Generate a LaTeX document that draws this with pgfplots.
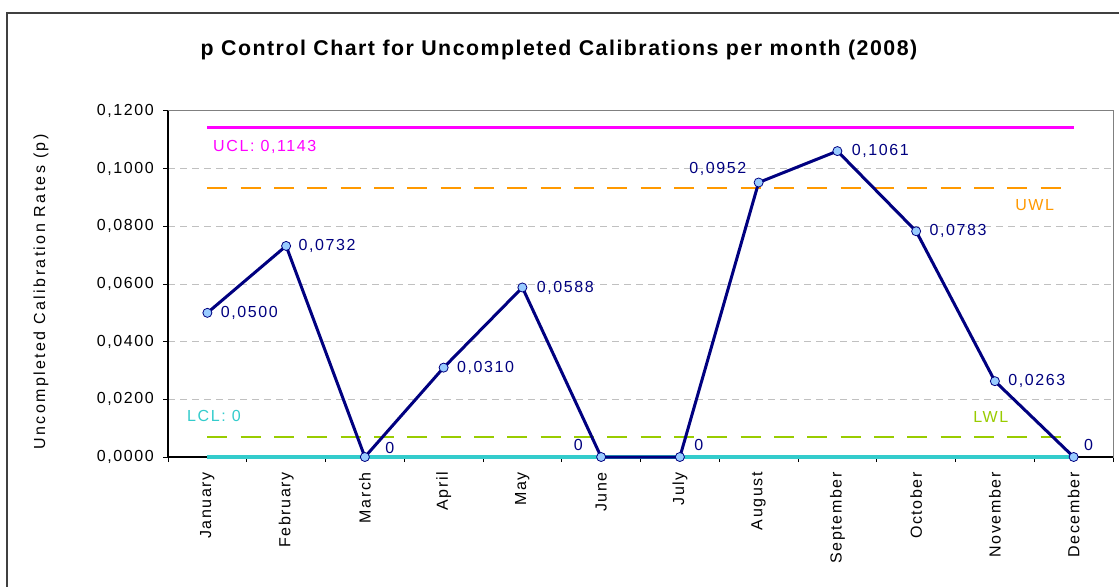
\documentclass[border=0pt]{standalone}
\usepackage{pgfplots}
\pgfplotsset{compat=1.18}
\usepackage{fontspec}
\setmainfont{Liberation Sans}[LetterSpace=10]
\newfontfamily\titlefont{Liberation Sans}[LetterSpace=7]
\newfontfamily\ylabfont{Liberation Sans}[LetterSpace=15]
\definecolor{navy}{HTML}{000080}
\definecolor{ptfill}{HTML}{99CCFF}
\definecolor{uclc}{HTML}{FF00FF}
\definecolor{uwlc}{HTML}{FF9900}
\definecolor{lwlc}{HTML}{99CC00}
\definecolor{lclc}{HTML}{33CCCC}
\definecolor{gridc}{HTML}{C0C0C0}
\definecolor{framec}{HTML}{404040}

\begin{document}
\begin{tikzpicture}
\useasboundingbox (0,0) rectangle (839.25pt,439.5pt);
\fill[white] (0,0) rectangle (839.25pt,439.5pt);
\draw[line width=1.5pt, draw=framec] (5.25pt,-10pt) -- (5.25pt,429.75pt) -- (850pt,429.75pt);
\node[anchor=base, inner sep=0pt, font=\titlefont\bfseries\fontsize{16pt}{19pt}\selectfont] at (419.25pt,398pt)
  {p Control Chart for Uncompleted Calibrations per month (2008)};
\node[anchor=base, rotate=90, inner sep=0pt, font=\ylabfont\fontsize{12pt}{14pt}\selectfont] at (33.75pt,220.5pt)
  {Uncompleted Calibration Rates (p)};
\begin{axis}[
  at={(126pt,96.75pt)}, anchor=south west,
  width=708.75pt, height=259.5pt, scale only axis,
  xmin=-0.5, xmax=11.5, ymin=0, ymax=0.12,
  axis line style={draw=gray, line width=0.75pt},
  tick pos=left, tick align=outside,
  major tick length=3.75pt,
  tick style={black, line width=0.75pt},
  xtick={-0.5,0.5,...,11.5}, xticklabels={,,},
  extra x ticks={0,1,...,11},
  extra x tick labels={January,February,March,April,May,June,July,August,September,October,November,December},
  extra x tick style={major tick length=0pt, xticklabel shift=11.25pt},
  xticklabel style={rotate=90, anchor=east, inner sep=0pt, font=\fontsize{12pt}{14pt}\selectfont},
  ytick={0,0.02,0.04,0.06,0.08,0.1,0.12},
  yticklabels={{0,0000},{0,0200},{0,0400},{0,0600},{0,0800},{0,1000},{0,1200}},
  yticklabel style={anchor=east, inner sep=0pt, font=\fontsize{12pt}{14pt}\selectfont},
  yticklabel shift=6.75pt,
  ymajorgrids,
  grid style={draw=gridc, dash pattern=on 5.25pt off 3.75pt, line width=0.75pt},
  clip=false,
]
\draw[black, line width=1.1pt] (rel axis cs:0,1) -- (rel axis cs:0,0) -- (rel axis cs:1,0);
\addplot[uclc, line width=2.4pt, forget plot] coordinates {(0,0.1143) (11,0.1143)};
\addplot[uwlc, line width=1.5pt, dash pattern=on 15pt off 10pt, forget plot] coordinates {(0,0.0932) (11,0.0932)};
\addplot[lwlc, line width=1.5pt, dash pattern=on 15pt off 10pt, forget plot] coordinates {(0,0.0070) (11,0.0070)};
\addplot[lclc, line width=2.4pt, forget plot] coordinates {(0,0) (11,0)};
\node[anchor=west, inner sep=0pt, text=uclc, font=\fontsize{12pt}{14pt}\selectfont] at (axis cs:0.071,0.1075) {UCL: 0,1143};
\node[anchor=west, inner sep=0pt, text=lclc, font=\fontsize{12pt}{14pt}\selectfont] at (axis cs:-0.259,0.0142) {LCL: 0};
\node[anchor=west, inner sep=0pt, text=uwlc, font=\fontsize{12pt}{14pt}\selectfont] at (axis cs:10.256,0.0874) {UWL};
\node[anchor=west, inner sep=0pt, text=lwlc, font=\fontsize{12pt}{14pt}\selectfont] at (axis cs:9.722,0.0139) {LWL};
\addplot[navy, line width=2.25pt, mark=*, mark size=3.4pt,
  mark options={fill=ptfill, draw=navy, line width=0.6pt},
  point meta=explicit symbolic,
  visualization depends on={value \thisrow{anc} \as \anc},
  visualization depends on={\thisrow{dx} \as \dx},
  visualization depends on={\thisrow{dy} \as \dy},
  nodes near coords,
  every node near coord/.append style={anchor=\anc, inner sep=0pt, text=navy,
     font=\fontsize{12pt}{14pt}\selectfont, xshift=\dx*0.75pt, yshift=\dy*0.75pt},
] table[x=x, y=y, meta=lab] {
x y lab anc dx dy
0 0.0500 0,0500 west 13 0
1 0.0732 0,0732 west 12 0
2 0 0 west 20 9
3 0.0310 0,0310 west 13 0
4 0.0588 0,0588 west 14 0
5 0 0 east -18 12
6 0 0 west 14 12
7 0.0952 0,0952 east -12 14
8 0.1061 0,1061 west 14 0
9 0.0783 0,0783 west 13 0
10 0.0263 0,0263 west 13 0
11 0 0 west 10 12
};
\end{axis}
\end{tikzpicture}
\end{document}
